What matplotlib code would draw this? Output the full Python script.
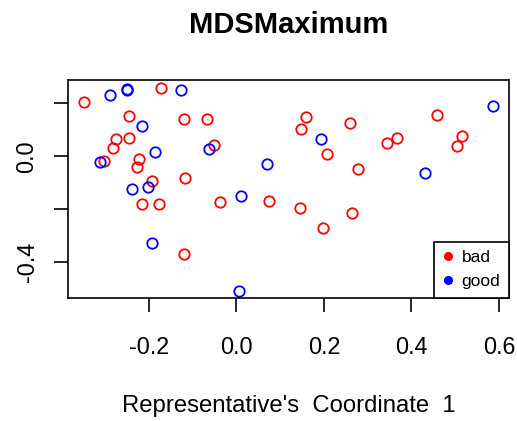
import matplotlib
matplotlib.use("Agg")
import matplotlib.pyplot as plt
from matplotlib.lines import Line2D

plt.rcParams['font.family'] = ['Liberation Sans', 'DejaVu Sans']
plt.rcParams['axes.unicode_minus'] = False

# MDS coordinates
x_bad = [-0.348, -0.172, -0.246, -0.120, -0.067, -0.276, -0.245, -0.283, -0.051,
         -0.302, -0.222, -0.227, -0.193, -0.117, -0.216, -0.177, -0.037, 0.075,
         0.159, 0.147, 0.259, 0.458, 0.207, 0.345, 0.368, 0.516, 0.504, 0.277,
         0.146, 0.263, 0.198, -0.120]
y_bad = [0.205, 0.258, 0.151, 0.142, 0.142, 0.065, 0.069, 0.031, 0.044,
         -0.017, -0.009, -0.042, -0.093, -0.081, -0.180, -0.180, -0.171, -0.169,
         0.147, 0.102, 0.125, 0.157, 0.008, 0.050, 0.069, 0.078, 0.040, -0.049,
         -0.196, -0.215, -0.272, -0.370]
x_good = [-0.288, -0.251, -0.250, -0.126, -0.216, -0.062, -0.187, -0.313, 0.070,
          -0.203, -0.239, 0.011, 0.587, 0.194, 0.431, -0.193, 0.005]
y_good = [0.232, 0.254, 0.250, 0.249, 0.116, 0.026, 0.015, -0.020, -0.030,
          -0.116, -0.123, -0.151, 0.191, 0.066, -0.064, -0.328, -0.507]

xticks = [-0.2, 0.0, 0.2, 0.4, 0.6]
xtick_labels = ['-0.2', '0.0', '0.2', '0.4', '0.6']
yticks = [-0.4, -0.2, 0.0, 0.2]
ytick_labels = ['-0.4', '', '0.0', '']

fig = plt.figure(figsize=(5.17, 4.21), dpi=100)
ax = fig.add_axes([68 / 517, 1 - 298 / 421, (509 - 68) / 517, (298 - 80) / 421])

ax.plot(x_bad, y_bad, linestyle='none', marker='o', markersize=7.5,
        markerfacecolor='none', markeredgecolor='#FF0000', markeredgewidth=1.3)
ax.plot(x_good, y_good, linestyle='none', marker='o', markersize=7.5,
        markerfacecolor='none', markeredgecolor='#0000FF', markeredgewidth=1.3)

ax.set_xlim(-0.385, 0.623)
ax.set_ylim(-0.535, 0.288)
ax.set_xticks(xticks)
ax.set_xticklabels(xtick_labels)
ax.set_yticks(yticks)
ax.set_yticklabels(ytick_labels, rotation=90, va='center')
ax.tick_params(axis='both', length=10, width=1.2, labelsize=16.8)
ax.tick_params(axis='x', pad=17)
ax.tick_params(axis='y', pad=11.2)
for s in ax.spines.values():
    s.set_linewidth(1.2)

ax.set_title('MDSMaximum', fontsize=21, fontweight='bold', pad=34)
fig.text(288.5 / 517, 1 - 411.7 / 421, "Representative's  Coordinate  1",
         fontsize=17.2, ha='center', va='baseline')

handles = [Line2D([], [], linestyle='none', marker='o', markersize=5.5, color='#FF0000'),
           Line2D([], [], linestyle='none', marker='o', markersize=5.5, color='#0000FF')]
leg = ax.legend(handles, ['bad', 'good'], loc='lower right', borderaxespad=0,
                fontsize=12.5, fancybox=False, edgecolor='black', framealpha=1,
                handlelength=0.6, handletextpad=0.5, borderpad=0.5, labelspacing=0.5)
leg.get_frame().set_linewidth(1.2)

fig.savefig('out.png', dpi=100)
